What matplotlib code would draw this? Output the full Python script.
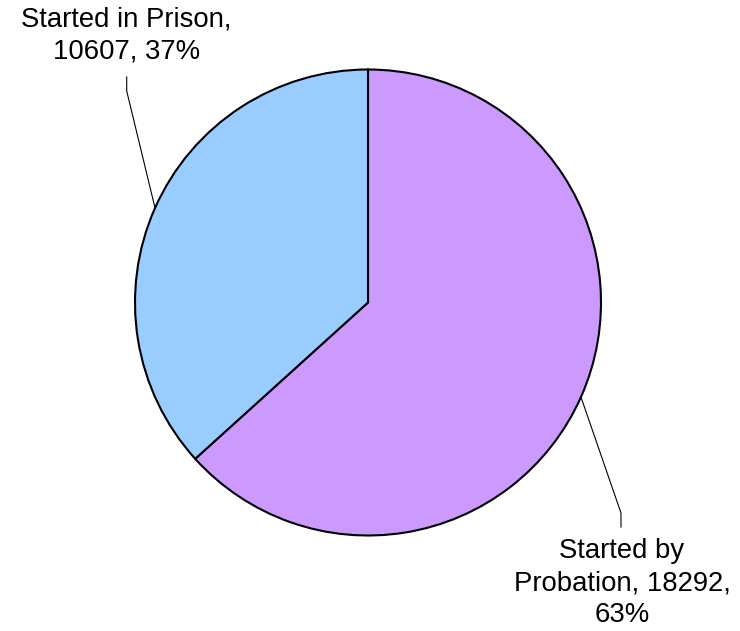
import numpy as np
import matplotlib.pyplot as plt

plt.rcParams['font.family'] = ['Liberation Sans', 'DejaVu Sans']

labels = ["Started by\nProbation, 18292,\n63%", "Started in Prison,\n10607, 37%"]
values = [18292, 10607]
colors = ["#CC99FF", "#99CCFF"]

W, H = 740, 631
fig = plt.figure(figsize=(W / 100, H / 100), dpi=100)
ax = fig.add_axes([0, 0, 1, 1])

cx, cy, r = 368, H - 302.5, 233
wedges, _ = ax.pie(values, colors=colors, startangle=90, counterclock=False,
                   center=(cx, cy), radius=r, frame=True,
                   wedgeprops=dict(edgecolor="black", linewidth=1.5))
ax.set_xlim(0, W)
ax.set_ylim(0, H)
ax.axis("off")

# label block centres and elbow points (pixel coords, y from top)
text_pos = [(622, 583), (126.5, 36)]
elbow = [((621, 527), (621, 513)), ((126.7, 77), (126.7, 91))]

for w, lab, (tx, ty), (e0, e1) in zip(wedges, labels, text_pos, elbow):
    mid = np.deg2rad((w.theta1 + w.theta2) / 2)
    px, py = cx + r * np.cos(mid), cy + r * np.sin(mid)
    xs = [e0[0], e1[0], px]
    ys = [H - e0[1], H - e1[1], py]
    ax.plot(xs, ys, color="black", linewidth=0.8)
    ax.text(tx, H - ty, lab, ha="center", va="center", multialignment="center",
            fontsize=19.8, linespacing=1.3)

fig.savefig("out.png", dpi=100)
